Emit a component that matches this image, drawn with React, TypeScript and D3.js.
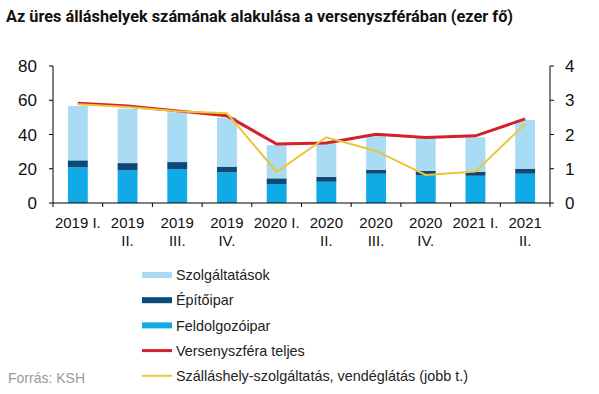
import React from "react";
import * as d3 from "d3";

const categories = ["2019 I.", "2019\nII.", "2019\nIII.", "2019\nIV.", "2020 I.", "2020\nII.", "2020\nIII.", "2020\nIV.", "2021 I.", "2021\nII."];
const feldolgozoipar = [20.8, 19.0, 19.8, 17.9, 11.1, 12.4, 17.1, 16.1, 15.9, 17.1];
const epitoipar = [4.1, 4.3, 4.1, 3.3, 3.3, 2.9, 2.3, 2.7, 2.4, 2.9];
const szolgaltatasok = [31.8, 31.7, 29.1, 28.7, 19.4, 19.7, 19.8, 19.1, 20.1, 28.5];
const versenyszfera = [58.3, 56.7, 53.8, 50.9, 34.4, 35.0, 40.2, 38.3, 39.2, 49.1];
const szallashely = [2.88, 2.80, 2.68, 2.62, 0.91, 1.92, 1.52, 0.82, 0.92, 2.31];
const leftTicks = [0, 20, 40, 60, 80];
const rightTicks = [0, 1, 2, 3, 4];

const seriesNames = ["Szolgáltatások", "Építőipar", "Feldolgozóipar", "Versenyszféra teljes", "Szálláshely-szolgáltatás, vendéglátás (jobb t.)"];
const C_SZOLG = "#aadbf4";
const C_EPITO = "#0d4a77";
const C_FELD = "#10aae6";
const C_RED = "#d3202a";
const C_YEL = "#ecc63a";

export default function App() {
  const W = 599, H = 394;
  const left = 53, right = 550, top = 66, bottom = 203;
  const x = d3.scaleBand<number>().domain(d3.range(categories.length)).range([left, right]).paddingInner(0.6).paddingOuter(0.3);
  const xb = d3.scaleBand<number>().domain(d3.range(categories.length)).range([left, right]);
  const yL = d3.scaleLinear().domain([0, 80]).range([bottom, top]);
  const yR = d3.scaleLinear().domain([0, 4]).range([bottom, top]);
  const stackData = categories.map((_, i) => ({ i, f: feldolgozoipar[i], e: epitoipar[i], s: szolgaltatasok[i] }));
  const stack = d3.stack<any>().keys(["f", "e", "s"])(stackData);
  const colors: Record<string, string> = { f: C_FELD, e: C_EPITO, s: C_SZOLG };
  const cx = (i: number) => (xb(i) as number) + xb.bandwidth() / 2;
  const redLine = d3.line<number>().x((_, i) => cx(i)).y((d) => yL(d));
  const yelLine = d3.line<number>().x((_, i) => cx(i)).y((d) => yR(d));
  const font = "'Liberation Sans', Arial, sans-serif";
  const legend = [
    { name: seriesNames[0], type: "rect", color: C_SZOLG },
    { name: seriesNames[1], type: "rect", color: C_EPITO },
    { name: seriesNames[2], type: "rect", color: C_FELD },
    { name: seriesNames[3], type: "line", color: C_RED, w: 3 },
    { name: seriesNames[4], type: "line", color: C_YEL, w: 2 },
  ];
  return (
    <svg width={W} height={H} style={{ position: "absolute", left: 0, top: 0, background: "#fff" }}>
      <text x={6} y={22} fontFamily="Roboto, sans-serif" fontWeight="bold" fontSize={16.3} fill="#111">
        Az üres álláshelyek számának alakulása a versenyszférában (ezer fő)
      </text>
      {stack.map((layer) => (
        <g key={layer.key} fill={colors[layer.key]}>
          {layer.map((d, i) => (
            <rect key={i} x={x(i)} width={x.bandwidth()} y={yL(d[1])} height={yL(d[0]) - yL(d[1])} />
          ))}
        </g>
      ))}
      <path d={redLine(versenyszfera) || ""} fill="none" stroke={C_RED} strokeWidth={3} />
      <path d={yelLine(szallashely) || ""} fill="none" stroke={C_YEL} strokeWidth={2} />
      <g stroke="#000" strokeWidth={1}>
        <line x1={left} x2={left} y1={top} y2={bottom} />
        <line x1={right} x2={right} y1={top} y2={bottom} />
        <line x1={left} x2={right} y1={bottom} y2={bottom} />
        {leftTicks.map((t) => (
          <line key={"l" + t} x1={left - 4} x2={left} y1={yL(t)} y2={yL(t)} />
        ))}
        {rightTicks.map((t) => (
          <line key={"r" + t} x1={right} x2={right + 4} y1={yR(t)} y2={yR(t)} />
        ))}
        {d3.range(categories.length + 1).map((i) => {
          const xx = i < categories.length ? (xb(i) as number) : right;
          return <line key={"x" + i} x1={xx} x2={xx} y1={bottom} y2={bottom + 4} />;
        })}
      </g>
      {leftTicks.map((t) => (
        <text key={"lt" + t} x={37} y={yL(t)} dy="0.36em" textAnchor="end" fontFamily={font} fontSize={17} fill="#111">
          {t}
        </text>
      ))}
      {rightTicks.map((t) => (
        <text key={"rt" + t} x={565} y={yR(t)} dy="0.36em" textAnchor="start" fontFamily={font} fontSize={17} fill="#111">
          {t}
        </text>
      ))}
      {categories.map((c, i) => (
        <text key={"c" + i} x={cx(i)} y={228} textAnchor="middle" fontFamily={font} fontSize={15} fill="#111">
          {c.split("\n").map((ln, k) => (
            <tspan key={k} x={cx(i)} dy={k === 0 ? 0 : 18}>{ln}</tspan>
          ))}
        </text>
      ))}
      {legend.map((l, k) => {
        const yy = 275 + k * 25.2;
        return (
          <g key={"lg" + k}>
            {l.type === "rect" ? (
              <rect x={142} y={yy - 3} width={30} height={6} fill={l.color} />
            ) : (
              <line x1={142} x2={172} y1={yy} y2={yy} stroke={l.color} strokeWidth={l.w} />
            )}
            <text x={176} y={yy} dy="0.36em" fontFamily={font} fontSize={14.4} fill="#222">
              {l.name}
            </text>
          </g>
        );
      })}
      <text x={8} y={378} dy="0.36em" fontFamily={font} fontSize={14} fill="#999">
        Forrás: KSH
      </text>
    </svg>
  );
}
